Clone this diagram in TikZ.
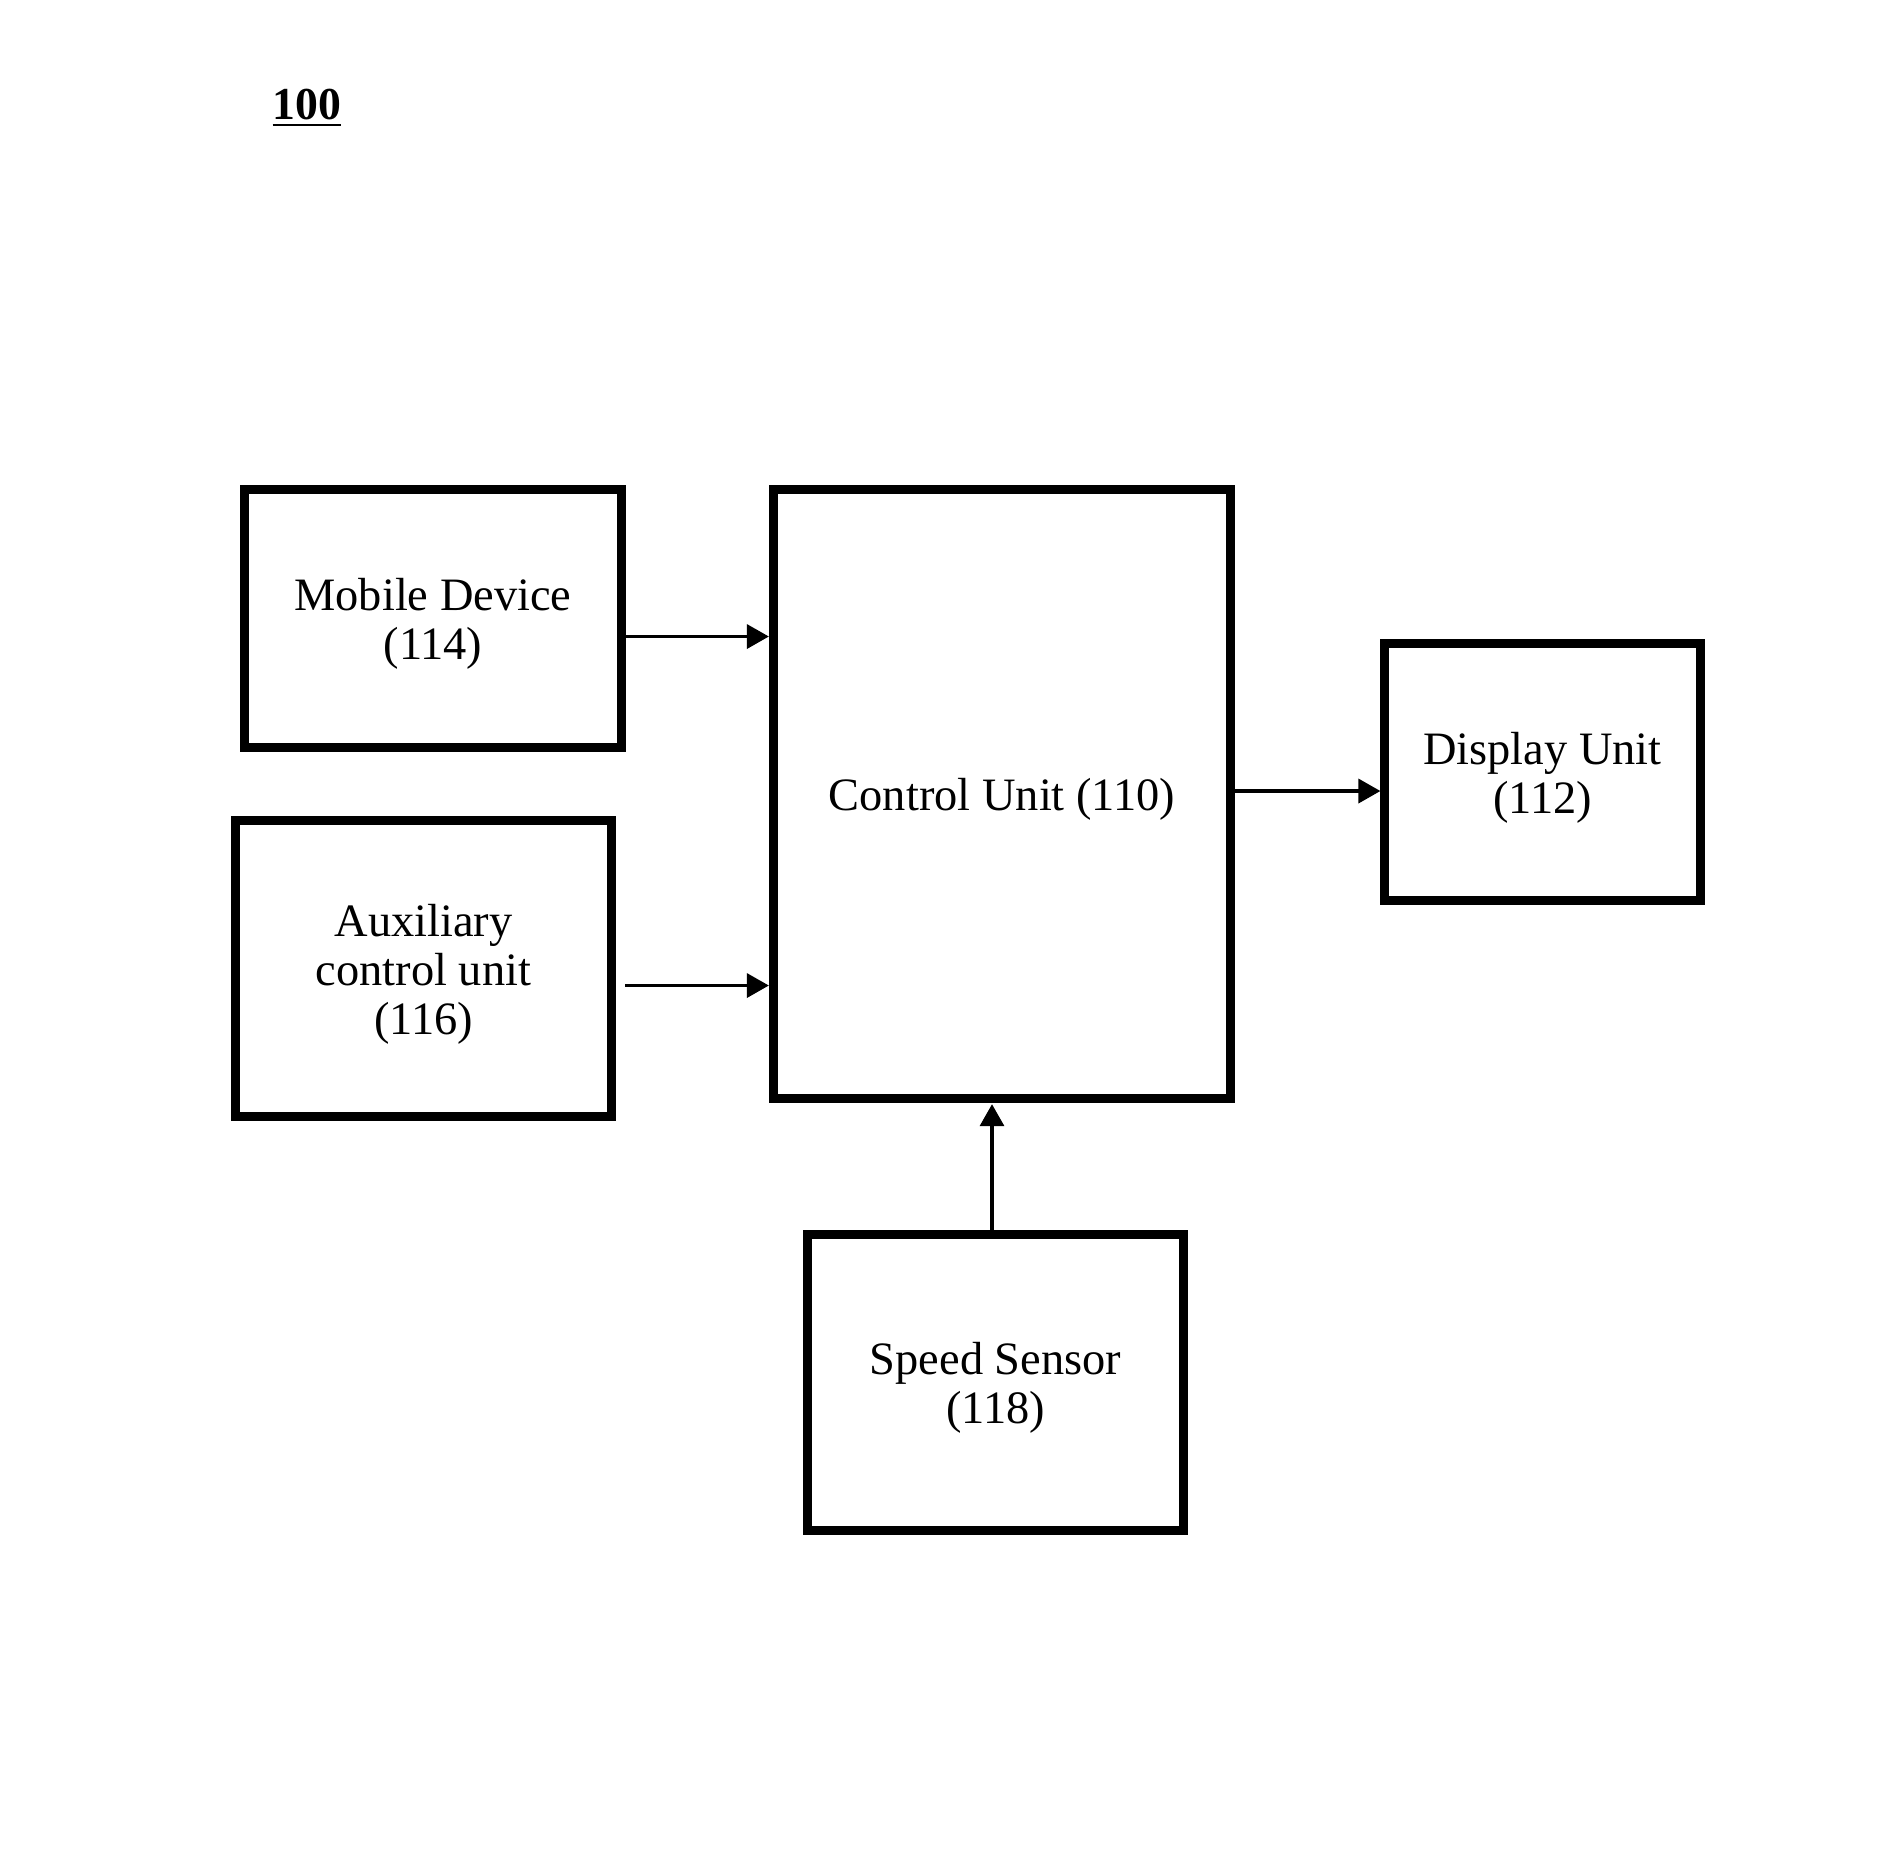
\documentclass[tikz,border=0pt]{standalone}
\usepackage{fontspec}
\setmainfont{Liberation Serif}
\usetikzlibrary{arrows.meta}
\newcommand{\boxlbl}[1]{\raisebox{-0.07cm}[\height][\depth]{\begin{tabular}{@{}c@{}}#1\end{tabular}}}
\begin{document}
\begin{tikzpicture}[x=0.01cm,y=-0.01cm,
  blk/.style={draw, line width=0.09cm, align=center, inner sep=0pt,
    font=\fontsize{13.2}{14}\selectfont},
  arr/.style={line width=0.035cm, -{Triangle[length=0.22cm,width=0.24cm]}}]
\useasboundingbox (0,0) rectangle (1879,1857);
\node[font=\fontsize{13}{15}\selectfont\bfseries] (fig) at (307,108) {\underline{100}};
\node[blk, minimum width=3.76cm, minimum height=2.57cm] (mobile) at (433,618.5) {\boxlbl{Mobile Device\\(114)}};
\node[blk, minimum width=4.57cm, minimum height=6.09cm] (control) at (1002,794) {\boxlbl{Control Unit (110)}};
\node[blk, minimum width=3.15cm, minimum height=2.57cm] (display) at (1542.5,772) {\boxlbl{Display Unit\\(112)}};
\node[blk, minimum width=3.76cm, minimum height=2.96cm] (aux) at (423.5,968.5) {\boxlbl{Auxiliary\\control unit\\(116)}};
\node[blk, minimum width=3.76cm, minimum height=2.96cm] (speed) at (995.5,1382.5) {\boxlbl{Speed Sensor\\(118)}};
\coordinate (m1) at ([yshift=-0.18cm]mobile.east);
\draw[arr] (m1) -- (m1 -| control.west);
\coordinate (a1) at ([xshift=0.09cm,yshift=-0.17cm]aux.east);
\draw[arr] (a1) -- (a1 -| control.west);
\coordinate (d1) at ([yshift=-0.19cm]display.west);
\draw[arr] (d1 -| control.east) -- (d1);
\coordinate (s1) at ([xshift=-0.035cm]speed.north);
\draw[arr, shorten >=0.01cm] (s1) -- (s1 |- control.south);
\end{tikzpicture}
\end{document}
